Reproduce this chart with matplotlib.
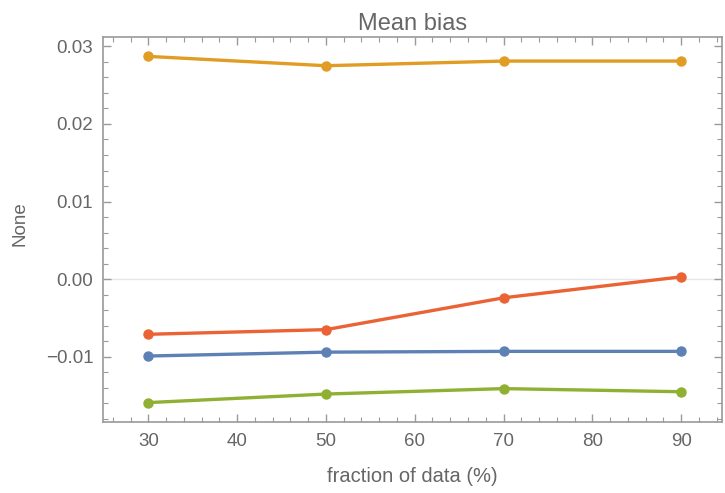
import matplotlib
matplotlib.use("Agg")
from matplotlib import pyplot as plt
from matplotlib.ticker import MultipleLocator
import numpy as np

fractions = [30, 50, 70, 90]
series_orange = [0.0287, 0.0275, 0.0281, 0.0281]
series_red = [-0.0071, -0.0065, -0.0024, 0.0003]
series_blue = [-0.0099, -0.0094, -0.0093, -0.0093]
series_green = [-0.0159, -0.0148, -0.0141, -0.0145]

colors = {
    "blue": "#5E81B5",
    "orange": "#E19C24",
    "green": "#8FB032",
    "red": "#EB6235",
}

plt.rcParams["font.family"] = ["Liberation Sans", "DejaVu Sans"]

fig = plt.figure(figsize=(7.25, 4.93), dpi=100)
ax = fig.add_axes([103 / 725, 1 - 422 / 493, (722 - 103) / 725, (422 - 37) / 493])

ax.axhline(0, color="#e6e6e6", linewidth=1, zorder=0)

for vals, c in [
    (series_blue, colors["blue"]),
    (series_orange, colors["orange"]),
    (series_green, colors["green"]),
    (series_red, colors["red"]),
]:
    ax.plot(fractions, vals, color=c, linewidth=2.4, marker="o", markersize=6.5,
            solid_capstyle="round")

ax.set_xlim(24.9, 94.6)
ax.set_ylim(-0.0184, 0.0312)

ax.xaxis.set_major_locator(MultipleLocator(10))
ax.xaxis.set_minor_locator(MultipleLocator(2))
ax.yaxis.set_major_locator(MultipleLocator(0.01))
ax.yaxis.set_minor_locator(MultipleLocator(0.002))
ax.yaxis.set_major_formatter(matplotlib.ticker.FuncFormatter(
    lambda v, p: f"{v:.2f}".replace("-", "\u2212") if abs(v) > 1e-9 else "0.00"))

frame = "#9a9a9a"
for s in ax.spines.values():
    s.set_color(frame)
    s.set_linewidth(1.2)
ax.tick_params(which="both", direction="in", top=True, right=True, colors=frame,
               labelcolor="#666666", labelsize=13.5)
ax.tick_params(which="major", length=6, width=1)
ax.tick_params(which="minor", length=3.5, width=0.8)
ax.tick_params(axis="x", pad=8)
ax.tick_params(axis="y", pad=7)

ax.set_title("Mean bias", color="#666666", fontsize=17, pad=5)
ax.set_xlabel("fraction of data (%)", color="#666666", fontsize=14.5, labelpad=12)
ax.set_ylabel("None", color="#666666", fontsize=13.5, labelpad=12)
ax.yaxis.set_label_coords(-0.121, 0.515)

fig.savefig("out.png", dpi=100)
